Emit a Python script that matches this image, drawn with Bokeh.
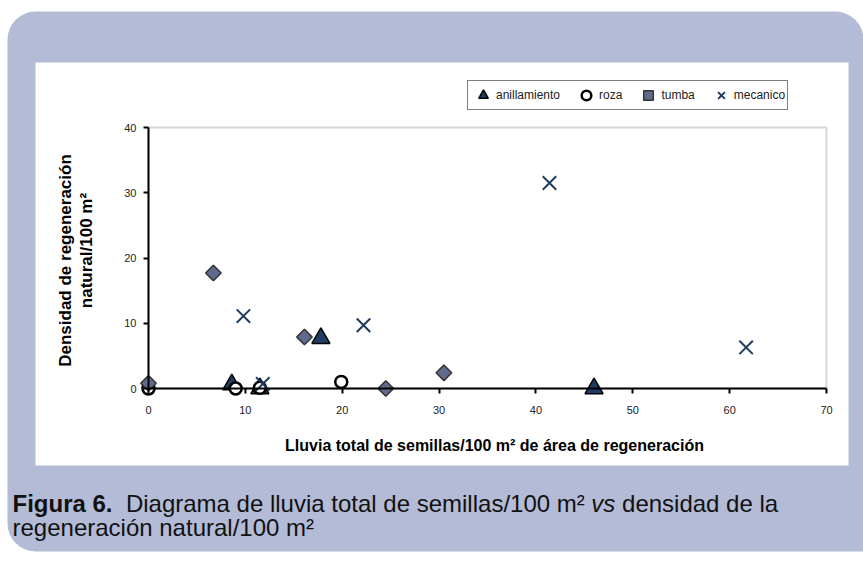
import math
from bokeh.plotting import figure
from bokeh.models import Range1d, BoxAnnotation, Label, Legend, LegendItem, FixedTicker
from bokeh.embed import file_html
from bokeh.resources import INLINE

# ---------------- data ----------------
series_names = ["anillamiento", "roza", "tumba", "mecanico"]
anill_x = [8.6, 11.5, 17.8, 46.0]
anill_y = [0.6, 0.0, 7.7, 0.0]
roza_x = [0.0, 9.0, 11.5, 19.9]
roza_y = [0.0, 0.0, 0.1, 1.0]
tumba_x = [0.0, 6.7, 16.1, 24.5, 30.5]
tumba_y = [0.8, 17.7, 7.9, 0.0, 2.4]
mec_x = [9.8, 11.8, 22.2, 41.4, 61.7]
mec_y = [11.1, 0.7, 9.7, 31.5, 6.3]

x_ticks = [0, 10, 20, 30, 40, 50, 60, 70]
y_ticks = [0, 10, 20, 30, 40]
X_MAX = 70
Y_MAX = 40

x_title = "Lluvia total de semillas/100 m² de área de regeneración"
y_title_lines = ["Densidad de regeneración", "natural/100 m²"]
cap_bold = "Figura 6."
cap_1a = "Diagrama de lluvia total de semillas/100 m²"
cap_1b = "vs"
cap_1c = "densidad de la"
cap_2 = "regeneración natural/100 m²"

# ---------------- layout (canvas pixels) ----------------
FONT = "Liberation Sans"
W, H = 863, 561
PA_L, PA_R, PA_T, PA_B = 148, 826, 127, 388   # plot area (data 0..70, 0..40)
SX = (PA_R - PA_L) / X_MAX
SY = (PA_B - PA_T) / Y_MAX


def dx(px):
    return (px - PA_L) / SX


def dy(py):
    return (PA_B - py) / SY


# the frame covers the whole canvas; axes are drawn at fixed data locations
p = figure(width=W, height=H, title=None,
           x_range=Range1d(dx(0), dx(W)),
           y_range=Range1d(dy(H), dy(0)),
           output_backend="svg", toolbar_location=None,
           min_border=0, min_border_left=0, min_border_right=0,
           min_border_top=0, min_border_bottom=0,
           background_fill_color="white", border_fill_color="white",
           outline_line_color=None)
p.grid.visible = False

# ---------------- decorative lavender frame ----------------
LAV = "#b4bbd6"
OUT_L, OUT_T, OUT_R, OUT_B = 7, 11, W, 551
WH_L, WH_T, WH_R, WH_B = 35, 62, 848, 465
RAD = 28
bands = [
    (OUT_L, OUT_R, OUT_T, WH_T, (RAD, RAD, 0, 0)),
    (OUT_L, WH_L, WH_T - 2, WH_B + 2, 0),
    (WH_R, OUT_R, WH_T - 2, WH_B + 2, 0),
    (OUT_L, OUT_R, WH_B, OUT_B, (0, 0, 0, RAD)),
]
for l, r, t, b, rad in bands:
    p.add_layout(BoxAnnotation(left=dx(l), right=dx(r), top=dy(t), bottom=dy(b),
                               fill_color=LAV, fill_alpha=1.0, line_color=None,
                               border_radius=rad))

# plot area border (grey, visible on top and right)
p.add_layout(BoxAnnotation(left=0, right=X_MAX, bottom=0, top=Y_MAX,
                           fill_color=None, line_color="#7a7a7a", line_width=2,
                           level="underlay"))

# ---------------- axes ----------------
p.xaxis.fixed_location = 0
p.yaxis.fixed_location = 0
p.xaxis.bounds = (0, X_MAX)
p.yaxis.bounds = (0, Y_MAX)
p.xaxis.ticker = FixedTicker(ticks=x_ticks)
p.yaxis.ticker = FixedTicker(ticks=y_ticks)
for ax in (p.xaxis, p.yaxis):
    ax.axis_line_color = "black"
    ax.axis_line_width = 2
    ax.major_tick_line_color = "black"
    ax.major_tick_line_width = 2
    ax.major_tick_out = 5
    ax.major_tick_in = 0
    ax.minor_tick_line_color = None
    ax.major_label_text_font = FONT
    ax.major_label_text_font_size = "11px"
    ax.major_label_text_color = "#222222"
p.xaxis.major_label_standoff = 12
p.yaxis.major_label_standoff = 7

# ---------------- series ----------------
r1 = p.scatter(anill_x, anill_y, marker="triangle", size=18,
               fill_color="#1f3d66", line_color="black", line_width=1.5)
r2 = p.scatter(roza_x, roza_y, marker="circle", size=12,
               fill_color="white", line_color="black", line_width=2.5)
r3 = p.scatter(tumba_x, tumba_y, marker="square", angle=math.pi / 4, size=11,
               fill_color="#5f6a8e", line_color="#333333", line_width=1.5)
r4 = p.scatter(mec_x, mec_y, marker="x", size=19,
               line_color="#1f3b5f", line_width=2)

# ---------------- legend ----------------
LG_L, LG_B = 467, 110
legend = Legend(items=[LegendItem(label=n, renderers=[r])
                       for n, r in zip(series_names, [r1, r2, r3, r4])],
                orientation="horizontal",
                location=(LG_L, H - LG_B),
                glyph_width=26, glyph_height=24, label_standoff=0,
                spacing=13, padding=2, margin=0, label_height=20,
                label_text_font=FONT, label_text_font_size="12px",
                label_text_color="#222222",
                border_line_color="black", border_line_width=1,
                background_fill_color="white", background_fill_alpha=1.0)
p.add_layout(legend)

# ---------------- titles ----------------
p.add_layout(Label(x=dx(494), y=dy(445), text=x_title, text_align="center",
                   text_baseline="middle", text_font=FONT, text_font_size="16px",
                   text_font_style="bold", text_color="black"))
for cx, cy, t in [(65, 260, y_title_lines[0]), (86, 250, y_title_lines[1])]:
    p.add_layout(Label(x=dx(cx), y=dy(cy), text=t, angle=math.pi / 2,
                       text_align="center", text_baseline="middle",
                       text_font=FONT, text_font_size="17px",
                       text_font_style="bold", text_color="black"))

# ---------------- caption ----------------
REG = {' ': 278, 'a': 556, 'c': 500, 'd': 556, 'e': 556, 'g': 556, 'i': 222,
       'l': 222, 'm': 833, 'n': 556, 'o': 556, 'r': 333, 's': 500, 't': 278,
       'u': 556, 'v': 500, 'D': 722, '/': 278, '²': 333, 'ó': 556, '.': 278}
BOLD = {' ': 278, 'F': 611, 'i': 278, 'g': 611, 'u': 611, 'r': 389, 'a': 556,
        '.': 278}


def tw(s, size, table):
    return sum(table.get(ch, 556) for ch in s) * size / 1000.0


CAP_SIZE = 24
CAP_X = 12
CAP_Y1, CAP_Y2 = 503, 527
sp = tw(" ", CAP_SIZE, REG)
xs = [CAP_X]
xs.append(xs[-1] + tw(cap_bold, CAP_SIZE, BOLD) + 2 * sp)
xs.append(xs[-1] + tw(cap_1a, CAP_SIZE, REG) + sp)
xs.append(xs[-1] + tw(cap_1b, CAP_SIZE, REG) + sp)
styles = ["bold", "normal", "italic", "normal"]
for x0, t, st in zip(xs, [cap_bold, cap_1a, cap_1b, cap_1c], styles):
    p.add_layout(Label(x=dx(x0), y=dy(CAP_Y1), text=t, text_align="left",
                       text_baseline="middle", text_font=FONT,
                       text_font_size=f"{CAP_SIZE}px", text_font_style=st,
                       text_color="#111111"))
p.add_layout(Label(x=dx(CAP_X), y=dy(CAP_Y2), text=cap_2, text_align="left",
                   text_baseline="middle", text_font=FONT,
                   text_font_size=f"{CAP_SIZE}px", text_color="#111111"))

open("out.html", "w").write(file_html(p, INLINE))
